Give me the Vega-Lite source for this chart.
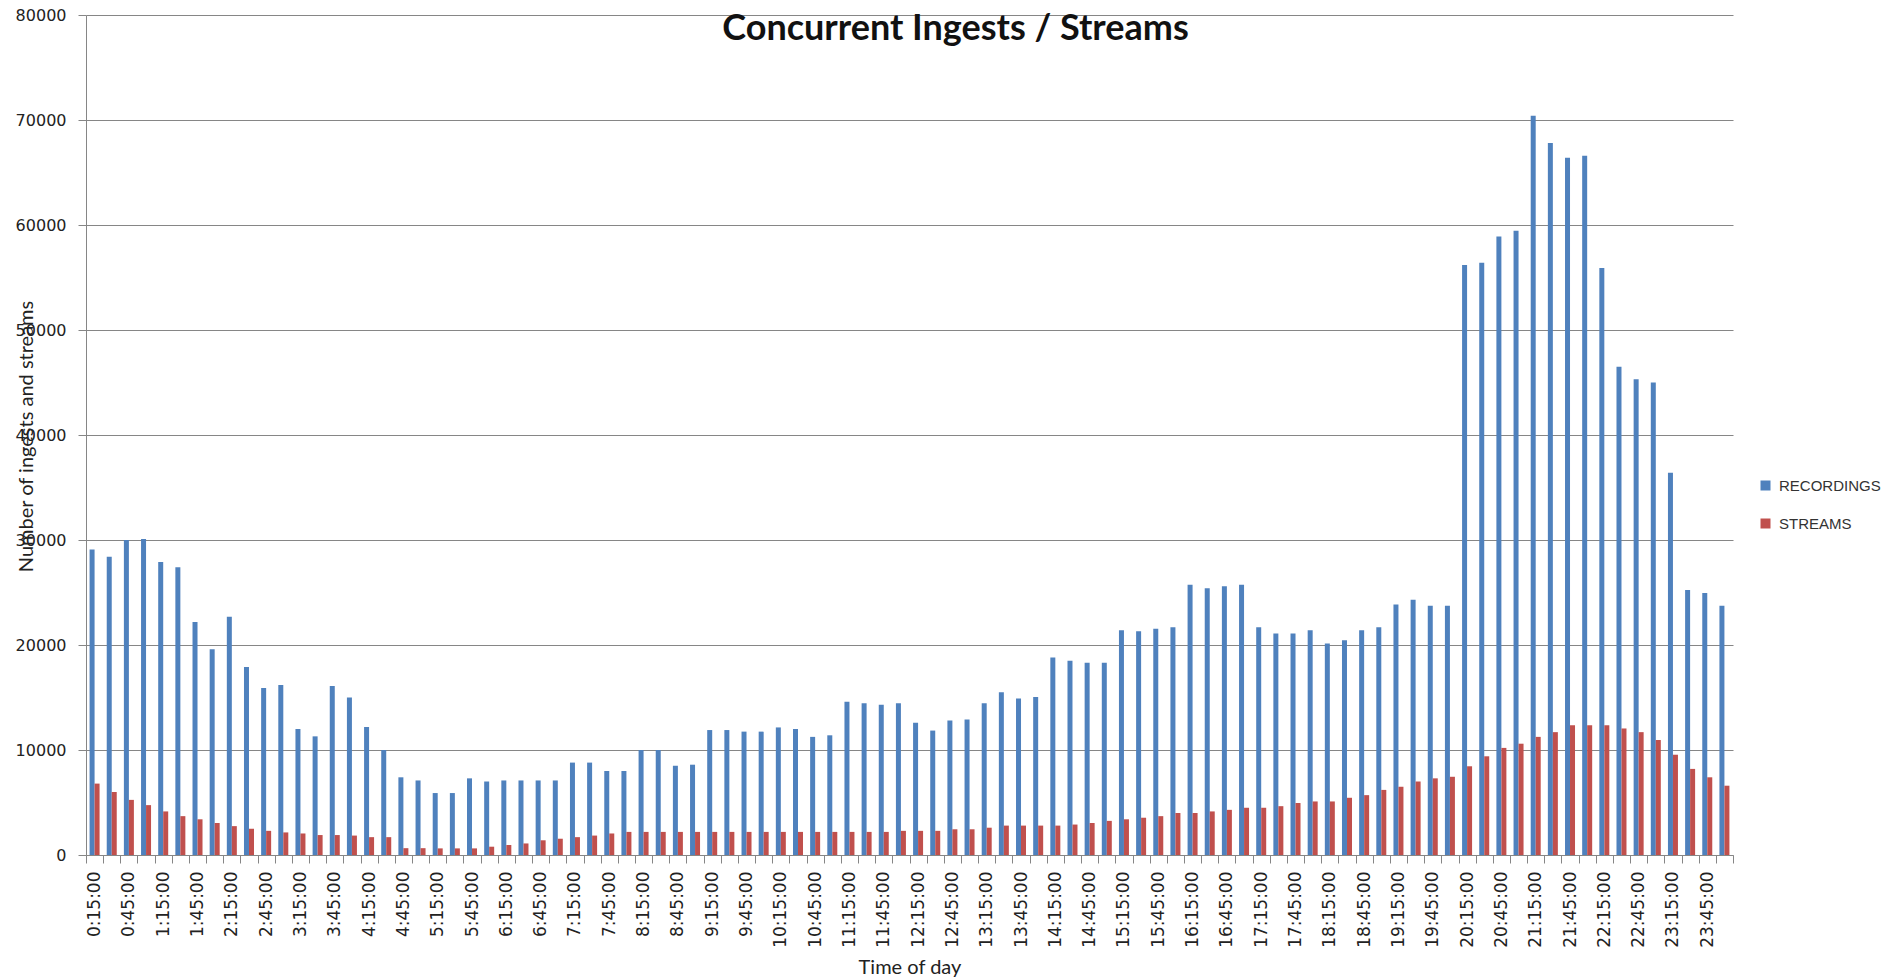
{
  "$schema": "https://vega.github.io/schema/vega-lite/v6.json",
  "width": 1647,
  "height": 840,
  "autosize": {"type": "none"},
  "padding": {"left": 86, "top": 15, "right": 169, "bottom": 123},
  "background": "white",
  "title": {
    "text": "Concurrent Ingests / Streams",
    "font": "Lato",
    "fontSize": 36,
    "fontWeight": "bold",
    "color": "#111111",
    "anchor": "middle",
    "dx": 46,
    "dy": 45
  },
  "data": {
    "values": [
      {"time": "0:15:00", "RECORDINGS": 29100, "STREAMS": 6800},
      {"time": "0:30:00", "RECORDINGS": 28400, "STREAMS": 6000},
      {"time": "0:45:00", "RECORDINGS": 30000, "STREAMS": 5250},
      {"time": "1:00:00", "RECORDINGS": 30100, "STREAMS": 4750},
      {"time": "1:15:00", "RECORDINGS": 27900, "STREAMS": 4150},
      {"time": "1:30:00", "RECORDINGS": 27400, "STREAMS": 3700},
      {"time": "1:45:00", "RECORDINGS": 22200, "STREAMS": 3400},
      {"time": "2:00:00", "RECORDINGS": 19600, "STREAMS": 3050},
      {"time": "2:15:00", "RECORDINGS": 22700, "STREAMS": 2750},
      {"time": "2:30:00", "RECORDINGS": 17900, "STREAMS": 2500},
      {"time": "2:45:00", "RECORDINGS": 15900, "STREAMS": 2300},
      {"time": "3:00:00", "RECORDINGS": 16200, "STREAMS": 2150},
      {"time": "3:15:00", "RECORDINGS": 12000, "STREAMS": 2050},
      {"time": "3:30:00", "RECORDINGS": 11300, "STREAMS": 1900},
      {"time": "3:45:00", "RECORDINGS": 16100, "STREAMS": 1900},
      {"time": "4:00:00", "RECORDINGS": 15000, "STREAMS": 1850},
      {"time": "4:15:00", "RECORDINGS": 12200, "STREAMS": 1700},
      {"time": "4:30:00", "RECORDINGS": 10000, "STREAMS": 1700},
      {"time": "4:45:00", "RECORDINGS": 7400, "STREAMS": 650},
      {"time": "5:00:00", "RECORDINGS": 7100, "STREAMS": 650},
      {"time": "5:15:00", "RECORDINGS": 5900, "STREAMS": 630},
      {"time": "5:30:00", "RECORDINGS": 5900, "STREAMS": 630},
      {"time": "5:45:00", "RECORDINGS": 7300, "STREAMS": 630},
      {"time": "6:00:00", "RECORDINGS": 7000, "STREAMS": 790},
      {"time": "6:15:00", "RECORDINGS": 7100, "STREAMS": 950},
      {"time": "6:30:00", "RECORDINGS": 7100, "STREAMS": 1100},
      {"time": "6:45:00", "RECORDINGS": 7100, "STREAMS": 1400},
      {"time": "7:00:00", "RECORDINGS": 7100, "STREAMS": 1550},
      {"time": "7:15:00", "RECORDINGS": 8800, "STREAMS": 1700},
      {"time": "7:30:00", "RECORDINGS": 8800, "STREAMS": 1850},
      {"time": "7:45:00", "RECORDINGS": 8000, "STREAMS": 2050},
      {"time": "8:00:00", "RECORDINGS": 8000, "STREAMS": 2200},
      {"time": "8:15:00", "RECORDINGS": 10000, "STREAMS": 2200},
      {"time": "8:30:00", "RECORDINGS": 10000, "STREAMS": 2200},
      {"time": "8:45:00", "RECORDINGS": 8500, "STREAMS": 2200},
      {"time": "9:00:00", "RECORDINGS": 8600, "STREAMS": 2200},
      {"time": "9:15:00", "RECORDINGS": 11900, "STREAMS": 2200},
      {"time": "9:30:00", "RECORDINGS": 11900, "STREAMS": 2200},
      {"time": "9:45:00", "RECORDINGS": 11750, "STREAMS": 2200},
      {"time": "10:00:00", "RECORDINGS": 11750, "STREAMS": 2200},
      {"time": "10:15:00", "RECORDINGS": 12150, "STREAMS": 2200},
      {"time": "10:30:00", "RECORDINGS": 12000, "STREAMS": 2200},
      {"time": "10:45:00", "RECORDINGS": 11250, "STREAMS": 2200},
      {"time": "11:00:00", "RECORDINGS": 11400, "STREAMS": 2200},
      {"time": "11:15:00", "RECORDINGS": 14600, "STREAMS": 2200},
      {"time": "11:30:00", "RECORDINGS": 14450, "STREAMS": 2200},
      {"time": "11:45:00", "RECORDINGS": 14300, "STREAMS": 2200},
      {"time": "12:00:00", "RECORDINGS": 14450, "STREAMS": 2300},
      {"time": "12:15:00", "RECORDINGS": 12600, "STREAMS": 2300},
      {"time": "12:30:00", "RECORDINGS": 11850, "STREAMS": 2300},
      {"time": "12:45:00", "RECORDINGS": 12800, "STREAMS": 2450},
      {"time": "13:00:00", "RECORDINGS": 12900, "STREAMS": 2450},
      {"time": "13:15:00", "RECORDINGS": 14450, "STREAMS": 2600},
      {"time": "13:30:00", "RECORDINGS": 15500, "STREAMS": 2800},
      {"time": "13:45:00", "RECORDINGS": 14900, "STREAMS": 2800},
      {"time": "14:00:00", "RECORDINGS": 15050, "STREAMS": 2800},
      {"time": "14:15:00", "RECORDINGS": 18800, "STREAMS": 2800},
      {"time": "14:30:00", "RECORDINGS": 18500, "STREAMS": 2900},
      {"time": "14:45:00", "RECORDINGS": 18300, "STREAMS": 3050},
      {"time": "15:00:00", "RECORDINGS": 18300, "STREAMS": 3250},
      {"time": "15:15:00", "RECORDINGS": 21400, "STREAMS": 3400},
      {"time": "15:30:00", "RECORDINGS": 21300, "STREAMS": 3550},
      {"time": "15:45:00", "RECORDINGS": 21550, "STREAMS": 3700},
      {"time": "16:00:00", "RECORDINGS": 21700, "STREAMS": 4000},
      {"time": "16:15:00", "RECORDINGS": 25750, "STREAMS": 4000},
      {"time": "16:30:00", "RECORDINGS": 25400, "STREAMS": 4150},
      {"time": "16:45:00", "RECORDINGS": 25600, "STREAMS": 4300},
      {"time": "17:00:00", "RECORDINGS": 25750, "STREAMS": 4500},
      {"time": "17:15:00", "RECORDINGS": 21700, "STREAMS": 4500},
      {"time": "17:30:00", "RECORDINGS": 21100, "STREAMS": 4650},
      {"time": "17:45:00", "RECORDINGS": 21100, "STREAMS": 4950},
      {"time": "18:00:00", "RECORDINGS": 21400, "STREAMS": 5100},
      {"time": "18:15:00", "RECORDINGS": 20150, "STREAMS": 5100},
      {"time": "18:30:00", "RECORDINGS": 20450, "STREAMS": 5450},
      {"time": "18:45:00", "RECORDINGS": 21400, "STREAMS": 5700},
      {"time": "19:00:00", "RECORDINGS": 21700, "STREAMS": 6200},
      {"time": "19:15:00", "RECORDINGS": 23850, "STREAMS": 6500},
      {"time": "19:30:00", "RECORDINGS": 24300, "STREAMS": 7000},
      {"time": "19:45:00", "RECORDINGS": 23750, "STREAMS": 7300},
      {"time": "20:00:00", "RECORDINGS": 23750, "STREAMS": 7450},
      {"time": "20:15:00", "RECORDINGS": 56200, "STREAMS": 8450},
      {"time": "20:30:00", "RECORDINGS": 56400, "STREAMS": 9400},
      {"time": "20:45:00", "RECORDINGS": 58900, "STREAMS": 10200},
      {"time": "21:00:00", "RECORDINGS": 59450, "STREAMS": 10600},
      {"time": "21:15:00", "RECORDINGS": 70400, "STREAMS": 11250},
      {"time": "21:30:00", "RECORDINGS": 67800, "STREAMS": 11700},
      {"time": "21:45:00", "RECORDINGS": 66400, "STREAMS": 12350},
      {"time": "22:00:00", "RECORDINGS": 66600, "STREAMS": 12350},
      {"time": "22:15:00", "RECORDINGS": 55900, "STREAMS": 12350},
      {"time": "22:30:00", "RECORDINGS": 46500, "STREAMS": 12050},
      {"time": "22:45:00", "RECORDINGS": 45300, "STREAMS": 11700},
      {"time": "23:00:00", "RECORDINGS": 45000, "STREAMS": 10950},
      {"time": "23:15:00", "RECORDINGS": 36400, "STREAMS": 9550},
      {"time": "23:30:00", "RECORDINGS": 25250, "STREAMS": 8200},
      {"time": "23:45:00", "RECORDINGS": 24950, "STREAMS": 7400},
      {"time": "0:00:00", "RECORDINGS": 23750, "STREAMS": 6600}
    ]
  },
  "encoding": {
    "x": {
      "field": "time",
      "type": "nominal",
      "sort": null,
      "scale": {"paddingInner": 0, "paddingOuter": 0},
      "axis": {
        "title": "Time of day",
        "titleFont": "Lato",
        "titleFontSize": 20,
        "titleFontWeight": "normal",
        "titleColor": "#222222",
        "titleY": 118,
        "titleBaseline": "alphabetic",
        "labelAngle": -90,
        "labelFont": "DejaVu Sans",
        "labelFontSize": 17,
        "labelColor": "#222222",
        "labelPadding": 8,
        "labelOverlap": false,
        "labelExpr": "test(/:[14]5:00$/, '' + datum.value) ? datum.value : ''",
        "tickBand": "extent",
        "tickSize": 8,
        "tickColor": "#868686",
        "domainColor": "#868686",
        "grid": false
      }
    }
  },
  "layer": [
    {
      "mark": {"type": "bar", "width": 5, "xOffset": -2.5},
      "encoding": {
        "y": {
          "field": "RECORDINGS",
          "type": "quantitative",
          "scale": {"domain": [0, 80000], "nice": false},
          "axis": {
            "title": "Number  of ingests and streams",
            "titleFont": "Lato",
            "titleFontSize": 20,
            "titleFontWeight": "normal",
            "titleColor": "#222222",
            "titleX": -60,
            "titleY": 421,
            "titleAlign": "center",
            "titleBaseline": "middle",
            "values": [0, 10000, 20000, 30000, 40000, 50000, 60000, 70000, 80000],
            "format": "d",
            "labelFont": "DejaVu Sans",
            "labelFontSize": 16,
            "labelColor": "#222222",
            "labelPadding": 12,
            "tickSize": 8,
            "tickColor": "#868686",
            "domainColor": "#868686",
            "grid": true,
            "gridColor": "#868686",
            "gridOpacity": 1
          }
        },
        "color": {
          "datum": "RECORDINGS",
          "type": "nominal",
          "scale": {"domain": ["RECORDINGS", "STREAMS"], "range": ["#4F81BD", "#C0504D"]},
          "legend": {
            "title": null,
            "orient": "none",
            "legendX": 1672,
            "legendY": 463,
            "symbolType": "square",
            "symbolSize": 100,
            "labelFont": "Liberation Sans",
            "labelFontSize": 15,
            "labelColor": "#333333",
            "labelOffset": 6,
            "rowPadding": 22
          }
        }
      }
    },
    {
      "mark": {"type": "bar", "width": 5, "xOffset": 2.5},
      "encoding": {
        "y": {"field": "STREAMS", "type": "quantitative"},
        "color": {"datum": "STREAMS", "type": "nominal"}
      }
    }
  ],
  "config": {
    "view": {"stroke": null}
  }
}
